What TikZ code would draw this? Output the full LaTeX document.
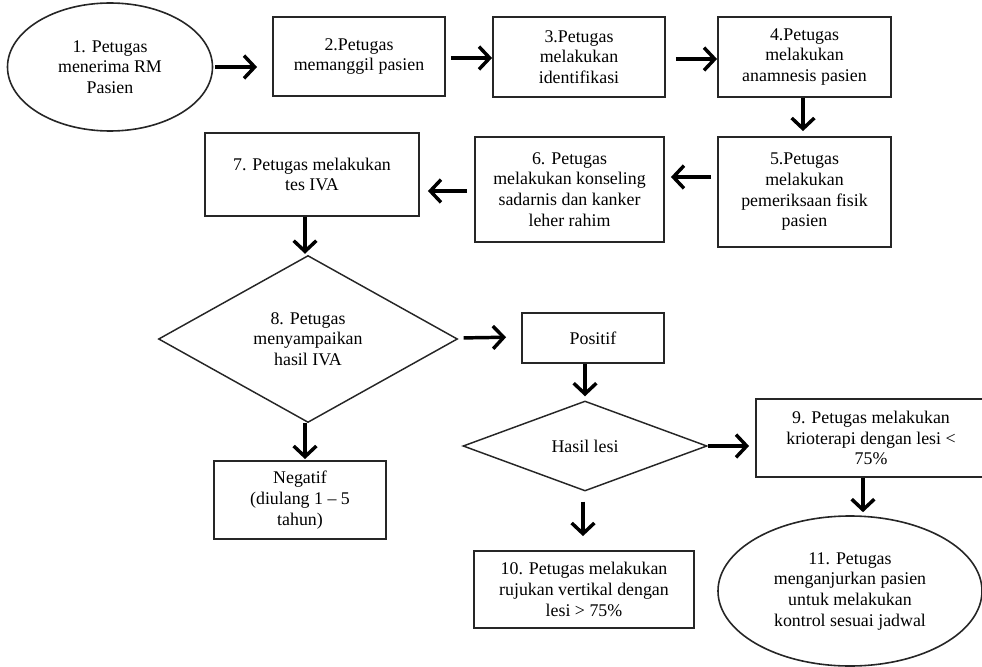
\documentclass[tikz,border=0pt]{standalone}
\usepackage{fontspec}
\setmainfont{Liberation Serif}
\usetikzlibrary{arrows.meta,shapes.geometric,calc}
\begin{document}
\begin{tikzpicture}[x=0.75pt,y=-0.75pt,
  every node/.style={font=\fontsize{13.4}{15.5}\selectfont, align=center, inner sep=0pt},
  box/.style 2 args={draw=black!85, line width=1.4pt, rectangle, minimum width=#1*0.75pt, minimum height=#2*0.75pt},
  oval/.style 2 args={draw=black!85, line width=1.2pt, ellipse, minimum width=#1*0.75pt, minimum height=#2*0.75pt},
  dec/.style 2 args={draw=black!85, line width=1.1pt, diamond, minimum width=#1*0.75pt, minimum height=#2*0.75pt},
  arr/.style={line width=2.6pt, -{Straight Barb[length=8pt,width=17pt]}}
]
\useasboundingbox (0,0) rectangle (982,667);
\clip (0,0) rectangle (982,667);

\node[oval={205}{128}] (e1) at (110,67) {1. Petugas\\menerima RM\\Pasien};
\node[box={172}{79}] (b2) at (359,56.5) {2.Petugas\\memanggil pasien};
\node[box={172}{80}] (b3) at (579,57) {3.Petugas\\melakukan\\identifikasi};
\node[box={173}{80}] (b4) at (804.5,57) {4.Petugas\\melakukan\\anamnesis pasien};
\node[box={173}{110}] (b5) at (804.5,192) {5.Petugas\\melakukan\\pemeriksaan fisik\\pasien};
\node[box={189}{105}] (b6) at (569.5,189.5) {6. Petugas\\melakukan konseling\\sadarnis dan kanker\\leher rahim};
\node[box={214}{83}] (b7) at (312,174.5) {7. Petugas melakukan\\tes IVA};
\node[dec={299}{167}] (d8) at (308,339) {8. Petugas\\menyampaikan\\hasil IVA};
\node[box={142}{50}] (pos) at (593,338) {Positif};
\node[dec={244}{90}] (dh) at (585,446) {Hasil lesi};
\node[box={230}{78}] (b9) at (871,438) {9. Petugas melakukan\\krioterapi dengan lesi <\\75\%};
\node[box={172}{78}] (neg) at (300,500) {Negatif\\(diulang 1 – 5\\tahun)};
\node[box={220}{77}] (b10) at (584,589.5) {10. Petugas melakukan\\rujukan vertikal dengan\\lesi > 75\%};
\node[oval={264}{150}] (e11) at (850,591) {11. Petugas\\menganjurkan pasien\\untuk melakukan\\kontrol sesuai jadwal};

\draw[arr, shorten <=1.5pt, shorten >=11.25pt] (e1.east) -- (b2.west |- e1.east);
\draw[arr, shorten <=3.75pt] ($(b2.east)+(0,1.5)$) -- ($(b3.west)+(0,1)$);
\draw[arr, shorten <=7.5pt] ($(b3.east)+(0,2)$) -- ($(b4.west)+(0,2)$);
\draw[arr, shorten >=3.75pt] ($(b4.south)+(-1.5,0)$) -- ($(b5.north)+(-1.5,0)$);
\draw[arr, shorten <=4.5pt, shorten >=4.5pt] ($(b5.west)+(0,-15)$) -- ($(b6.east)+(0,-12.5)$);
\draw[arr, shorten <=5.25pt, shorten >=6pt] ($(b6.west)+(0,1.5)$) -- ($(b7.east)+(0,16.5)$);
\draw[arr, shorten >=0.75pt] ($(b7.south)+(-7,0)$) -- ($(d8.north)+(-3,0)$);
\draw[arr, shorten <=4pt, shorten >=11.25pt] ($(d8.east)+(0,-1)$) -- ($(pos.west)+(0,-1)$);
\draw[arr, shorten >=3pt] ($(pos.south)+(-8,0)$) -- (dh.north);
\draw[arr, shorten >=0.75pt] ($(d8.south)+(-3,0)$) -- ($(neg.north)+(5,0)$);
\draw[arr, shorten >=4.5pt] (dh.east) -- ($(b9.west)+(0,8)$);
\draw[arr, shorten <=7.5pt, shorten >=10.5pt] ($(dh.south)+(-2,0)$) -- ($(b10.north)+(-1,0)$);
\draw[arr, shorten >=2.25pt] ($(b9.south)+(-8,0)$) -- ($(e11.north)+(13,0)$);
\end{tikzpicture}
\end{document}
